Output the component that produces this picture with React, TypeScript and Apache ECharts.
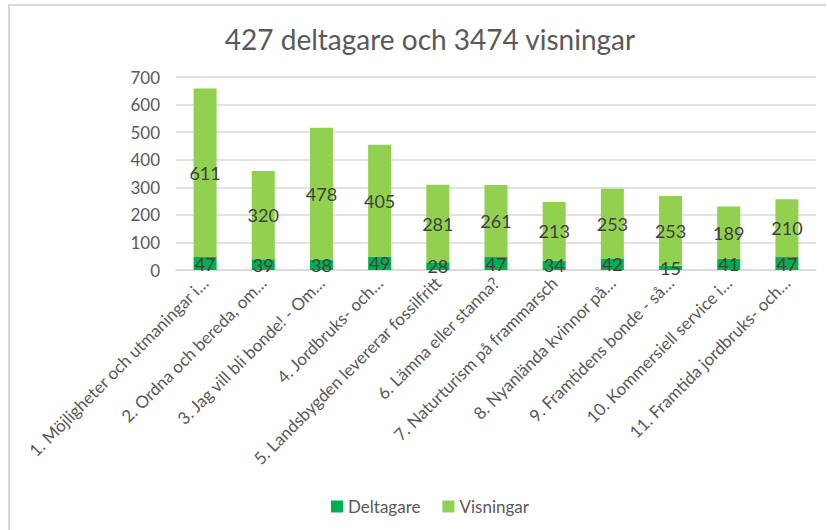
import React, { useEffect, useRef } from "react";
import * as echarts from "echarts";

const categories = [
  "1. Möjligheter och utmaningar i…",
  "2. Ordna och bereda, om…",
  "3. Jag vill bli bonde! - Om…",
  "4. Jordbruks- och…",
  "5. Landsbygden levererar fossilfritt",
  "6. Lämna eller stanna?",
  "7. Naturturism på frammarsch",
  "8. Nyanlända kvinnor på…",
  "9. Framtidens bonde - så…",
  "10. Kommersiell service i…",
  "11. Framtida jordbruks- och…",
];
const deltagare = [47, 39, 38, 49, 28, 47, 34, 42, 15, 41, 47];
const visningar = [611, 320, 478, 405, 281, 261, 213, 253, 253, 189, 210];
const titleText = "427 deltagare och 3474 visningar";

const FONT = "Lato, 'Open Sans', sans-serif";

export default function App() {
  const ref = useRef<HTMLDivElement>(null);
  useEffect(() => {
    document.body.style.margin = "0";
    const chart = echarts.init(ref.current!, null, { renderer: "svg" });
    chart.setOption({
      animation: false,
      backgroundColor: "#ffffff",
      textStyle: { fontFamily: FONT },
      title: {
        text: titleText,
        left: 425,
        textAlign: "center",
        top: 20,
        textStyle: { fontFamily: FONT, fontSize: 28, fontWeight: "normal", color: "#595959" },
      },
      graphic: [
        { type: "line", shape: { x1: 8, y1: 5, x2: 826, y2: 5 }, style: { stroke: "#d9d9d9", lineWidth: 2 } },
        { type: "line", shape: { x1: 9, y1: 4, x2: 9, y2: 530 }, style: { stroke: "#d9d9d9", lineWidth: 2 } },
      ],
      legend: {
        top: 493,
        left: 326,
        itemWidth: 12,
        itemHeight: 12,
        itemGap: 22,
        icon: "rect",
        textStyle: { fontFamily: FONT, fontSize: 17, color: "#595959" },
        data: ["Deltagare", "Visningar"],
      },
      grid: { left: 176, right: 11, top: 77, bottom: 260, containLabel: false },
      xAxis: {
        type: "category",
        data: categories,
        axisLine: { lineStyle: { color: "#d9d9d9", width: 1.5 } },
        axisTick: { show: false },
        axisLabel: {
          rotate: 45,
          interval: 0,
          fontFamily: FONT,
          fontSize: 17,
          color: "#595959",
          margin: 10,
        },
      },
      yAxis: {
        type: "value",
        min: 0,
        max: 700,
        interval: 100,
        axisLine: { show: false },
        axisTick: { show: false },
        splitLine: { lineStyle: { color: "#d9d9d9", width: 1.5 } },
        axisLabel: { fontFamily: FONT, fontSize: 17, color: "#595959", margin: 16 },
      },
      series: [
        {
          name: "Deltagare",
          type: "bar",
          stack: "total",
          data: deltagare,
          barWidth: 23,
          itemStyle: { color: "#00B050" },
          label: { show: true, position: "inside", fontFamily: FONT, fontSize: 18, color: "#404040" },
        },
        {
          name: "Visningar",
          type: "bar",
          stack: "total",
          data: visningar,
          barWidth: 23,
          itemStyle: { color: "#92D050" },
          label: { show: true, position: "inside", fontFamily: FONT, fontSize: 18, color: "#404040" },
        },
      ],
    });
    return () => chart.dispose();
  }, []);
  return <div ref={ref} style={{ width: 827, height: 530 }} />;
}
